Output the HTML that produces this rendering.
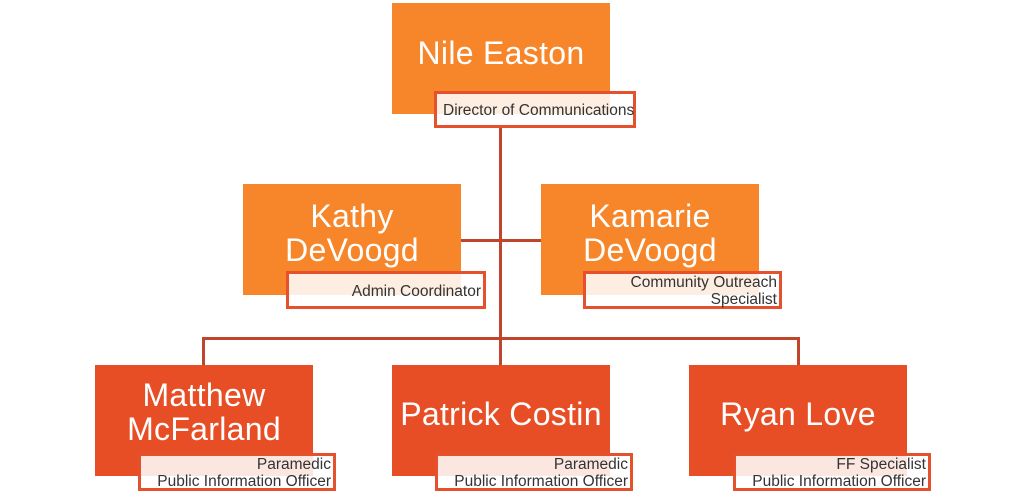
<!DOCTYPE html>
<html><head><meta charset="utf-8"><style>
body{margin:0;width:1024px;height:498px;background:#fff;position:relative;overflow:hidden;font-family:"Liberation Sans",sans-serif}
.n{position:absolute;width:218px;height:111px;color:#fff;font-size:32px;line-height:34px;text-align:center;display:flex;justify-content:center;box-sizing:border-box;letter-spacing:0.3px}
.o{background:#f7862a}.r{background:#e84e25}
.t{position:absolute;border:3px solid #e4512c;background:rgba(255,255,255,0.86);box-sizing:border-box;color:#333;font-size:15.5px;line-height:17px;text-align:right;padding:2px 2px 0 6px;display:flex;flex-direction:column;justify-content:center;white-space:nowrap}
.l{position:absolute;background:#c0452a}
</style></head><body>
<div class="l" style="left:499px;top:126px;width:3px;height:240px"></div>
<div class="l" style="left:461px;top:239px;width:80px;height:3px"></div>
<div class="l" style="left:202px;top:337px;width:598px;height:3px"></div>
<div class="l" style="left:202px;top:337px;width:3px;height:28px"></div>
<div class="l" style="left:797px;top:337px;width:3px;height:28px"></div>

<div class="n o" style="left:392px;top:3px;align-items:center;padding-bottom:12px">Nile Easton</div>
<div class="t" style="left:434px;top:91px;width:202px;height:37px;text-align:left">Director of Communications</div>

<div class="n o" style="left:243px;top:184px;padding-top:15px">Kathy<br>DeVoogd</div>
<div class="t" style="left:286px;top:271px;width:200px;height:38px">Admin Coordinator</div>

<div class="n o" style="left:541px;top:184px;padding-top:15px">Kamarie<br>DeVoogd</div>
<div class="t" style="left:583px;top:271px;width:199px;height:38px">Community Outreach<br>Specialist</div>

<div class="n r" style="left:95px;top:365px;padding-top:13px">Matthew<br>McFarland</div>
<div class="t" style="left:138px;top:453px;width:198px;height:38px">Paramedic<br>Public Information Officer</div>

<div class="n r" style="left:392px;top:365px;align-items:center;padding-bottom:14px">Patrick Costin</div>
<div class="t" style="left:435px;top:453px;width:198px;height:38px">Paramedic<br>Public Information Officer</div>

<div class="n r" style="left:689px;top:365px;align-items:center;padding-bottom:14px">Ryan Love</div>
<div class="t" style="left:733px;top:453px;width:198px;height:38px">FF Specialist<br>Public Information Officer</div>
</body></html>
